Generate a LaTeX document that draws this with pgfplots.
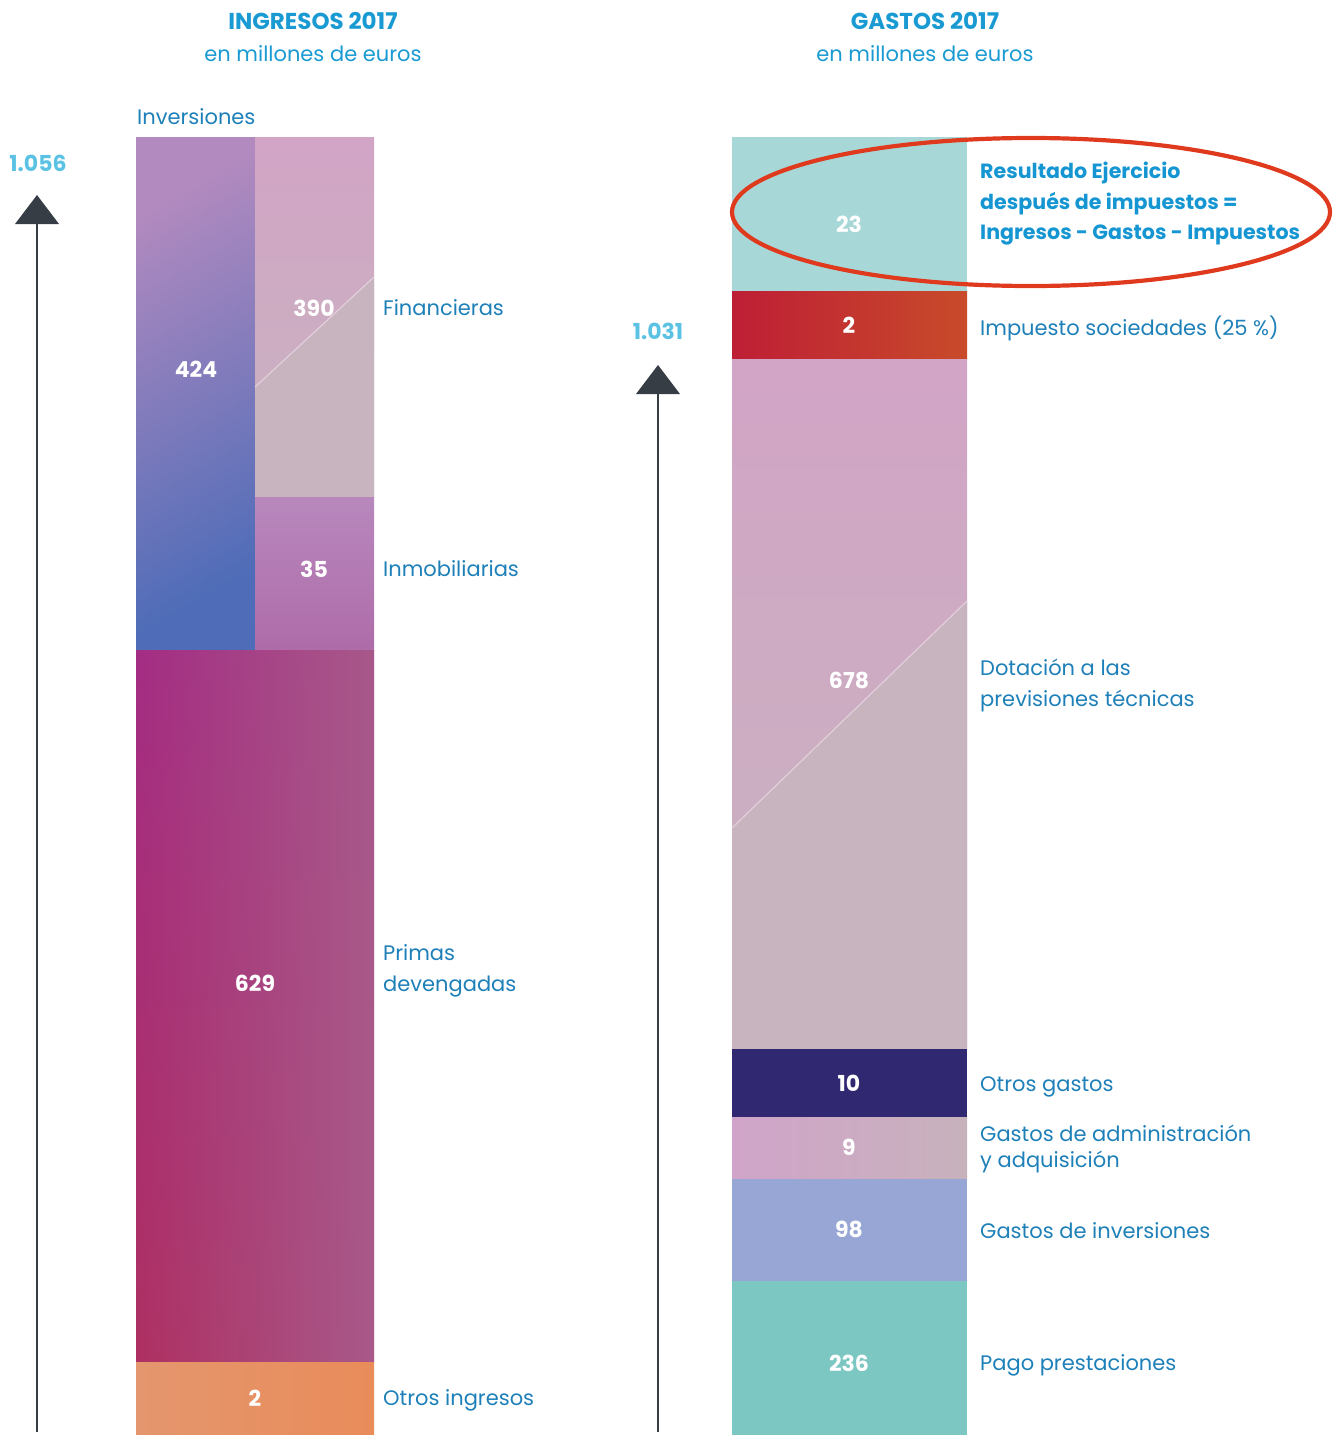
\documentclass[border=0pt]{standalone}
\usepackage{fontspec}
\setmainfont{Poppins}
\usepackage{pgfplots}
\pgfplotsset{compat=1.18}
\usetikzlibrary{fadings}
\tikzfading[name=inright, left color=transparent!100, right color=transparent!0]
\definecolor{titleblue}{HTML}{1A9AD2}
\definecolor{labelblue}{HTML}{1E80B8}
\definecolor{numblue}{HTML}{5BC2E3}
\definecolor{arrowgray}{HTML}{363D45}
\definecolor{ellred}{HTML}{E03A1E}
\definecolor{resblue}{HTML}{1596D2}
\definecolor{invtop}{HTML}{B28ABF}
\definecolor{invmid}{HTML}{8575B5}
\definecolor{invbot}{HTML}{4E6CB8}
\definecolor{fintop}{HTML}{D2A4C6}
\definecolor{finmid}{HTML}{CCA6D0}
\definecolor{finbot}{HTML}{C7B4BE}
\definecolor{inmtop}{HTML}{B888BD}
\definecolor{inmbot}{HTML}{AE6CA8}
\definecolor{primT}{HTML}{A42D84}
\definecolor{primB}{HTML}{AF3062}
\definecolor{primR}{HTML}{A8598A}
\definecolor{otrL}{HTML}{E4966E}
\definecolor{otrR}{HTML}{E98C5A}
\definecolor{resc}{HTML}{A7D8D7}
\definecolor{impL}{HTML}{BE1E35}
\definecolor{impR}{HTML}{C84B2A}
\definecolor{ogc}{HTML}{302870}
\definecolor{admL}{HTML}{D0A4C9}
\definecolor{admR}{HTML}{C7B2BC}
\definecolor{ginv}{HTML}{97A6D4}
\definecolor{pago}{HTML}{7CC7C1}
\newcommand{\lab}{\fontsize{21}{31}\selectfont}
\newcommand{\labb}{\fontsize{20.6}{31}\selectfont}
\begin{document}
\begin{tikzpicture}
\begin{axis}[
  width=1340pt, height=1435pt, scale only axis,
  xmin=0, xmax=1340, ymin=0, ymax=1435, y dir=reverse,
  axis lines=none, clip=false,
]
% ---------- INGRESOS (left column) ----------
% Inversiones 424
\addplot[draw=none, top color=invtop, middle color=invmid, bottom color=invbot, shading angle=30] coordinates {(136,137) (255,137) (255,650) (136,650)} --cycle;
% Financieras 390
\addplot[draw=none, top color=fintop, middle color=finmid, bottom color=finbot] coordinates {(255,137) (374,137) (374,497) (255,497)} --cycle;
\addplot[draw=none, fill=finbot] coordinates {(255,387) (374,277) (374,497) (255,497)} --cycle;
\addplot[no marks, draw=white!60!fintop, line width=1.2pt, opacity=0.7] coordinates {(255,387) (374,277)};
% Inmobiliarias 35
\addplot[draw=none, top color=inmtop, bottom color=inmbot] coordinates {(255,497) (374,497) (374,650) (255,650)} --cycle;
% Primas devengadas 629
\addplot[draw=none, top color=primT, bottom color=primB] coordinates {(136,650) (374,650) (374,1362) (136,1362)} --cycle;
\addplot[draw=none, fill=primR, path fading=inright] coordinates {(136,650) (374,650) (374,1362) (136,1362)} --cycle;
% Otros ingresos 2
\addplot[draw=none, left color=otrL, right color=otrR] coordinates {(136,1362) (374,1362) (374,1435) (136,1435)} --cycle;

% ---------- GASTOS (right column) ----------
\addplot[draw=none, fill=resc] coordinates {(732,137) (967,137) (967,291) (732,291)} --cycle;
\addplot[draw=none, left color=impL, right color=impR] coordinates {(732,291) (967,291) (967,359) (732,359)} --cycle;
\addplot[draw=none, top color=fintop, middle color=finmid, bottom color=finbot] coordinates {(732,359) (967,359) (967,1049) (732,1049)} --cycle;
\addplot[draw=none, fill=finbot] coordinates {(732,828) (967,601) (967,1049) (732,1049)} --cycle;
\addplot[no marks, draw=white!60!fintop, line width=1.2pt, opacity=0.7] coordinates {(732,828) (967,601)};
\addplot[draw=none, fill=ogc] coordinates {(732,1049) (967,1049) (967,1117) (732,1117)} --cycle;
\addplot[draw=none, left color=admL, right color=admR] coordinates {(732,1117) (967,1117) (967,1179) (732,1179)} --cycle;
\addplot[draw=none, fill=ginv] coordinates {(732,1179) (967,1179) (967,1281) (732,1281)} --cycle;
\addplot[draw=none, fill=pago] coordinates {(732,1281) (967,1281) (967,1435) (732,1435)} --cycle;

% ---------- values ----------
\addplot[draw=none, mark=none, nodes near coords, point meta=explicit symbolic,
  nodes near coords align={center},
  every node near coord/.append style={anchor=center, text=white, font=\bfseries\fontsize{22}{26}\selectfont}]
  table[meta=v] {
x y v
196 369 424
314 308 390
314 569 35
255 983 629
255 1398 2
849 224 23
849 325 2
849 680 678
849 1083 10
849 1147 9
849 1229 98
849 1363 236
};

% ---------- arrows ----------
\addplot[no marks, draw=arrowgray, line width=2.6pt] coordinates {(37,1432) (37,220)};
\addplot[draw=none, fill=arrowgray] coordinates {(37,195) (59,224) (15,224)} --cycle;
\addplot[no marks, draw=arrowgray, line width=2.6pt] coordinates {(658,1432) (658,390)};
\addplot[draw=none, fill=arrowgray] coordinates {(658,365) (680,394) (636,394)} --cycle;

% ---------- texts ----------
\node[anchor=base, text=titleblue, font=\bfseries\fontsize{23}{28}\selectfont] at (axis cs:313,29) {INGRESOS 2017};
\node[anchor=base, text=titleblue, font=\lab] at (axis cs:313,61) {en millones de euros};
\node[anchor=base, text=titleblue, font=\bfseries\fontsize{23}{28}\selectfont] at (axis cs:925,29) {GASTOS 2017};
\node[anchor=base, text=titleblue, font=\lab] at (axis cs:925,61) {en millones de euros};
\node[anchor=base west, inner sep=0pt, text=labelblue, font=\lab] at (axis cs:137,124) {Inversiones};
\node[anchor=center, text=numblue, font=\bfseries\fontsize{22}{26}\selectfont] at (axis cs:38,163) {1.056};
\node[anchor=center, text=numblue, font=\bfseries\fontsize{22}{26}\selectfont] at (axis cs:658,331) {1.031};

\node[anchor=base west, inner sep=0pt, text=labelblue, font=\lab] at (axis cs:383,315) {Financieras};
\node[anchor=base west, inner sep=0pt, text=labelblue, font=\lab] at (axis cs:383,576) {Inmobiliarias};
\node[anchor=base west, inner sep=0pt, text=labelblue, font=\lab] at (axis cs:383,960) {Primas};
\node[anchor=base west, inner sep=0pt, text=labelblue, font=\lab] at (axis cs:383,991) {devengadas};
\node[anchor=base west, inner sep=0pt, text=labelblue, font=\lab] at (axis cs:383,1405) {Otros ingresos};

\node[anchor=base west, inner sep=0pt, text=resblue, font=\bfseries\labb] at (axis cs:980,178) {Resultado Ejercicio};
\node[anchor=base west, inner sep=0pt, text=resblue, font=\bfseries\labb] at (axis cs:980,209) {después de impuestos =};
\node[anchor=base west, inner sep=0pt, text=resblue, font=\bfseries\labb] at (axis cs:980,239) {Ingresos - Gastos - Impuestos};
\node[anchor=base west, inner sep=0pt, text=labelblue, font=\lab] at (axis cs:980,335) {Impuesto sociedades (25 \%)};
\node[anchor=base west, inner sep=0pt, text=labelblue, font=\lab] at (axis cs:980,675) {Dotación a las};
\node[anchor=base west, inner sep=0pt, text=labelblue, font=\lab] at (axis cs:980,706) {previsiones técnicas};
\node[anchor=base west, inner sep=0pt, text=labelblue, font=\lab] at (axis cs:980,1091) {Otros gastos};
\node[anchor=base west, inner sep=0pt, text=labelblue, font=\lab] at (axis cs:980,1141) {Gastos de administración};
\node[anchor=base west, inner sep=0pt, text=labelblue, font=\lab] at (axis cs:980,1167) {y adquisición};
\node[anchor=base west, inner sep=0pt, text=labelblue, font=\lab] at (axis cs:980,1238) {Gastos de inversiones};
\node[anchor=base west, inner sep=0pt, text=labelblue, font=\lab] at (axis cs:980,1370) {Pago prestaciones};

% ---------- highlight ellipse ----------
\draw[ellred, line width=4.2pt] (axis cs:1031,212) ellipse [x radius=299, y radius=74];
\end{axis}
\pgfresetboundingbox
\useasboundingbox (current axis.south west) rectangle (current axis.north east);
\end{tikzpicture}
\end{document}
